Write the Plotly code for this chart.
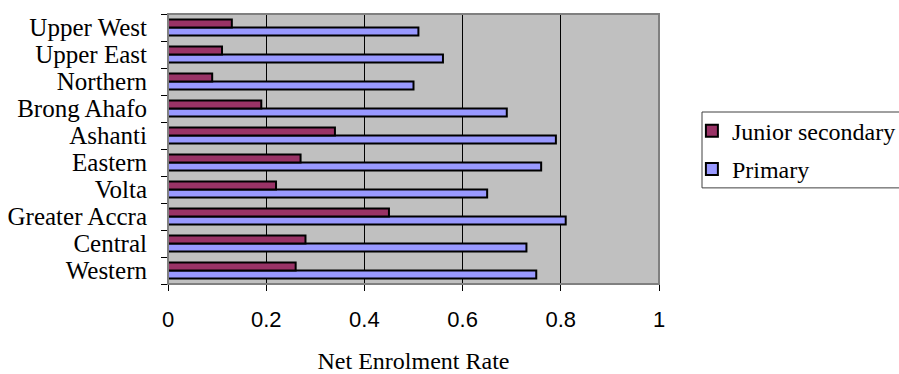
import plotly.graph_objects as go

# Regions listed bottom to top as they appear on the category axis
regions = ["Western", "Central", "Greater Accra", "Volta", "Eastern",
           "Ashanti", "Brong Ahafo", "Northern", "Upper East", "Upper West"]
junior_secondary = [0.26, 0.28, 0.45, 0.22, 0.27, 0.34, 0.19, 0.09, 0.11, 0.13]
primary = [0.75, 0.73, 0.81, 0.65, 0.76, 0.79, 0.69, 0.50, 0.56, 0.51]
x_ticks = [0, 0.2, 0.4, 0.6, 0.8, 1]

fig = go.Figure()
fig.add_trace(go.Bar(
    y=regions, x=primary, name="Primary", orientation="h",
    legendgroup="primary", legendrank=2,
    marker=dict(color="#9999FF", line=dict(color="black", width=2)),
))
fig.add_trace(go.Bar(
    y=regions, x=junior_secondary, name="Junior secondary", orientation="h",
    legendgroup="junior", legendrank=1,
    marker=dict(color="#993366", line=dict(color="black", width=2)),
))

fig.update_layout(
    width=899, height=374,
    margin=dict(l=168, r=240, t=14, b=90, autoexpand=False),
    paper_bgcolor="white",
    plot_bgcolor="#C0C0C0",
    barmode="group",
    bargap=0.4,
    bargroupgap=0,
    showlegend=True,
    legend=dict(
        x=1.067, xanchor="left", y=0.496, yanchor="middle",
        traceorder="grouped", tracegroupgap=4,
        font=dict(family="Liberation Serif", size=24, color="black"),
        bgcolor="rgba(0,0,0,0)", borderwidth=0,
    ),
    xaxis=dict(
        range=[0, 1], tickvals=x_ticks, ticktext=[str(v) for v in x_ticks],
        showgrid=True, gridcolor="black", gridwidth=1,
        zeroline=False, showline=True, linecolor="#404040", linewidth=1,
        ticks="outside", ticklen=6, tickcolor="black",
        ticklabelstandoff=10,
        tickfont=dict(family="Liberation Sans", size=22, color="black"),
        title=dict(text="Net Enrolment Rate", standoff=22,
                   font=dict(family="Liberation Serif", size=24, color="black")),
    ),
    yaxis=dict(
        categoryorder="array", categoryarray=regions,
        tickmode="array", tickvals=regions, ticktext=regions,
        showgrid=False, zeroline=False,
        showline=True, linecolor="#202020", linewidth=1,
        ticks="outside", ticklen=6, tickcolor="black", tickson="boundaries",
        ticklabelstandoff=15,
        tickfont=dict(family="Liberation Serif", size=25, color="black"),
    ),
)

# Gray frame around the plotting area
fig.add_shape(type="rect", xref="paper", yref="paper", x0=0, y0=0, x1=1, y1=1,
              line=dict(color="#808080", width=2), layer="above")
# Frame around the legend
fig.add_shape(type="rect", xref="paper", yref="paper",
              x0=1.0876, y0=0.356, x1=1.6, y1=0.637,
              line=dict(color="#404040", width=1), layer="below")

fig.write_html("out.html")
